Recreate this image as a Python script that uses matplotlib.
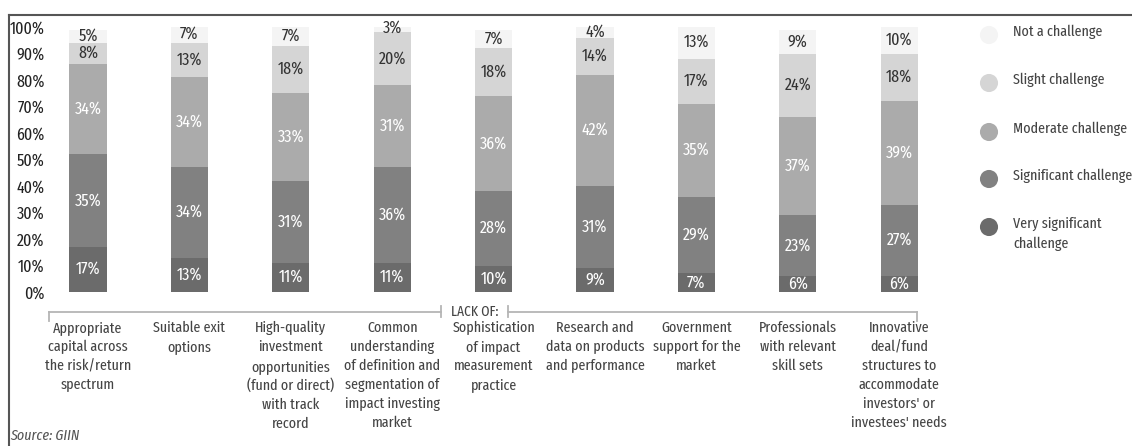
import numpy as np
import matplotlib
matplotlib.use("Agg")
import matplotlib.pyplot as plt
from matplotlib.lines import Line2D

plt.rcParams['font.family'] = ['Fira Sans Extra Condensed', 'DejaVu Sans']

# data (bottom -> top of each stack)
categories = [
    "Appropriate\ncapital across\nthe risk/return\nspectrum",
    "Suitable exit\noptions",
    "High-quality\ninvestment\nopportunities\n(fund or direct)\nwith track\nrecord",
    "Common\nunderstanding\nof definition and\nsegmentation of\nimpact investing\nmarket",
    "Sophistication\nof impact\nmeasurement\npractice",
    "Research and\ndata on products\nand performance",
    "Government\nsupport for the\nmarket",
    "Professionals\nwith relevant\nskill sets",
    "Innovative\ndeal/fund\nstructures to\naccommodate\ninvestors' or\ninvestees' needs",
]
very_significant = [17, 13, 11, 11, 10, 9, 7, 6, 6]
significant = [35, 34, 31, 36, 28, 31, 29, 23, 27]
moderate = [34, 34, 33, 31, 36, 42, 35, 37, 39]
slight = [8, 13, 18, 20, 18, 14, 17, 24, 18]
not_challenge = [5, 7, 7, 3, 7, 4, 13, 9, 10]

series_names = ["Very significant\nchallenge", "Significant challenge",
                "Moderate challenge", "Slight challenge", "Not a challenge"]
series = [very_significant, significant, moderate, slight, not_challenge]
colors = ["#6b6b6b", "#818181", "#ababab", "#d5d5d5", "#f4f4f4"]
text_colors = ["white", "white", "white", "#333333", "#333333"]

W, H = 1132, 446
fig = plt.figure(figsize=(W / 100, H / 100), dpi=100)

# frame around the figure (top and left visible)
fig.add_artist(Line2D([9 / W, 9 / W], [0, 1 - 15 / H], transform=fig.transFigure,
                      color="#555555", lw=1.5))
fig.add_artist(Line2D([9 / W, 1], [1 - 15 / H, 1 - 15 / H], transform=fig.transFigure,
                      color="#555555", lw=1.5))

ax_left, ax_right = 50, 940
ax_bottom, ax_top = 292, 27
ax = fig.add_axes([ax_left / W, (H - ax_bottom) / H,
                   (ax_right - ax_left) / W, (ax_bottom - ax_top) / H])

step = 101.4
x = np.arange(len(categories))
ax.set_xlim((ax_left - 88) / step, (ax_right - 88) / step)
ax.set_ylim(0, 100)

bottom = np.zeros(len(categories))
for vals, col, tcol in zip(series, colors, text_colors):
    vals = np.array(vals)
    ax.bar(x, vals, width=0.365, bottom=bottom, color=col, edgecolor="none")
    for xi, b, v in zip(x, bottom, vals):
        ax.text(xi, b + v / 2, f"{v}%", ha="center", va="center",
                fontsize=12.5, color=tcol)
    bottom = bottom + vals

ax.set_yticks(np.arange(0, 101, 10))
ax.set_yticklabels([f"{t}%" for t in range(0, 101, 10)], fontsize=12.5, color="#222222")
ax.tick_params(axis="y", length=0, pad=4)
ax.set_xticks([])
for s in ax.spines.values():
    s.set_visible(False)

# bracket under the bars
def px2x(px):
    return (px - 88) / step

def px2y(py):
    return (ax_bottom - py) / (ax_bottom - ax_top) * 100

ly = px2y(312)
lc = "#b5b5b5"
ax.plot([px2x(49), px2x(441)], [ly, ly], color=lc, lw=1.3, clip_on=False)
ax.plot([px2x(508), px2x(917)], [ly, ly], color=lc, lw=1.3, clip_on=False)
ax.plot([px2x(49), px2x(49)], [ly, px2y(321)], color=lc, lw=1.3, clip_on=False)
ax.plot([px2x(917), px2x(917)], [ly, px2y(321)], color=lc, lw=1.3, clip_on=False)
for px in (441, 508):
    ax.plot([px2x(px), px2x(px)], [px2y(306), px2y(317)], color=lc, lw=1.3, clip_on=False)
ax.text(px2x(475), ly, "LACK OF:", ha="center", va="center", fontsize=10.5,
        color="#444444")

for xi, cat in zip(x, categories):
    ax.text(xi, px2y(321), cat, ha="center", va="top", fontsize=11,
            color="#444444", linespacing=1.42)

fig.text(10 / W, 1 - 436 / H, "Source: GIIN", fontsize=11, style="italic",
         color="#555555", va="center")

# legend
lax = fig.add_axes([0, 0, 1, 1])
lax.set_xlim(0, W)
lax.set_ylim(H, 0)
lax.axis("off")
leg_y = [227, 179, 132, 83, 35]
for name, col, yy in zip(series_names, colors, leg_y):
    lax.scatter([989], [yy], s=170, color=col, edgecolor="none")
    lax.text(1013, yy - 10, name, ha="left", va="top", fontsize=11,
             color="#444444", linespacing=1.45)

fig.savefig("out.png", dpi=100)
